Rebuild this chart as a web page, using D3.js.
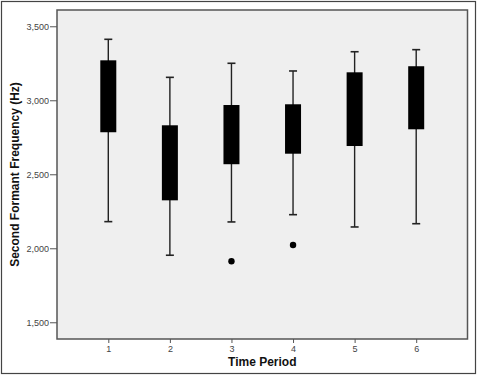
<!DOCTYPE html>
<html>
<head>
<meta charset="utf-8">
<script src="https://cdn.jsdelivr.net/npm/d3@7"></script>
<style>
  body { margin: 0; background: white; }
  svg { display: block; font-family: 'Liberation Sans', Arial, sans-serif; }
</style>
</head>
<body>
<svg id="chart" width="478" height="376"></svg>
<script>
/* DATA */
const periods = ['1', '2', '3', '4', '5', '6']
const whiskerLow = [2180, 1953, 2178, 2227, 2144, 2166]
const q1 = [2784, 2324, 2568, 2639, 2691, 2804]
const q3 = [3270, 2831, 2968, 2973, 3189, 3230]
const whiskerHigh = [3412, 3155, 3250, 3198, 3328, 3342]
const outliers = [{ period: '3', value: 1912 }, { period: '4', value: 2022 }]
const yTicks = [1500, 2000, 2500, 3000, 3500]

/* LAYOUT */
const svg = d3.select('#chart')
const plotLeft = 57
const plotRight = 467.5
const plotTop = 10
const plotBottom = 339
const boxWidth = 16
const capWidth = 8
const lineColour = '#222'

const x = d3.scalePoint().domain(periods).range([plotLeft, plotRight]).padding(0.833)
const y = d3.scaleLinear().domain([1387, 3610]).range([plotBottom, plotTop])

// Outer frame
svg.append('rect')
  .attr('x', 1.5).attr('y', 1.5)
  .attr('width', 474).attr('height', 372)
  .attr('fill', 'white')
  .attr('stroke', '#444')
  .attr('stroke-width', 1.2)

// Plot background
svg.append('rect')
  .attr('x', plotLeft).attr('y', plotTop)
  .attr('width', plotRight - plotLeft).attr('height', plotBottom - plotTop)
  .attr('fill', '#efefef')
  .attr('stroke', '#555')
  .attr('stroke-width', 1.5)

/* AXES */
const yAxis = svg.append('g')
  .attr('transform', `translate(${plotLeft},0)`)
  .call(d3.axisLeft(y).tickValues(yTicks).tickFormat(d3.format(',')).tickSize(7).tickPadding(1))
yAxis.select('.domain').remove()
yAxis.selectAll('line').attr('stroke', '#555')
yAxis.selectAll('text').attr('font-size', 9).attr('fill', '#444')

const xAxis = svg.append('g')
  .attr('transform', `translate(0,${plotBottom})`)
  .call(d3.axisBottom(x).tickSize(4).tickPadding(3))
xAxis.select('.domain').remove()
xAxis.selectAll('line').attr('stroke', '#555')
xAxis.selectAll('text').attr('font-size', 9).attr('fill', '#444')

// Axis titles
svg.append('text')
  .attr('x', (plotLeft + plotRight) / 2)
  .attr('y', 366)
  .attr('text-anchor', 'middle')
  .attr('font-size', 12)
  .attr('font-weight', 'bold')
  .attr('fill', '#111')
  .text('Time Period')

svg.append('text')
  .attr('transform', `translate(19,${(plotTop + plotBottom) / 2}) rotate(-90)`)
  .attr('text-anchor', 'middle')
  .attr('font-size', 12)
  .attr('font-weight', 'bold')
  .attr('fill', '#111')
  .text('Second Formant Frequency (Hz)')

/* BOXES */
const g = svg.append('g')

periods.forEach((p, i) => {
  const cx = x(p)

  // Whisker stem
  g.append('line')
    .attr('x1', cx).attr('x2', cx)
    .attr('y1', y(whiskerHigh[i])).attr('y2', y(whiskerLow[i]))
    .attr('stroke', lineColour)
    .attr('stroke-width', 1.4)

  // Caps
  ;[whiskerHigh[i], whiskerLow[i]].forEach(v => {
    g.append('line')
      .attr('x1', cx - capWidth / 2).attr('x2', cx + capWidth / 2)
      .attr('y1', y(v)).attr('y2', y(v))
      .attr('stroke', lineColour)
      .attr('stroke-width', 1.6)
  })

  // Box
  g.append('rect')
    .attr('x', cx - boxWidth / 2)
    .attr('y', y(q3[i]))
    .attr('width', boxWidth)
    .attr('height', y(q1[i]) - y(q3[i]))
    .attr('fill', 'black')
})

// Outliers
g.selectAll('circle')
  .data(outliers)
  .enter()
  .append('circle')
  .attr('cx', d => x(d.period))
  .attr('cy', d => y(d.value))
  .attr('r', 3.2)
  .attr('fill', 'black')
</script>
</body>
</html>
